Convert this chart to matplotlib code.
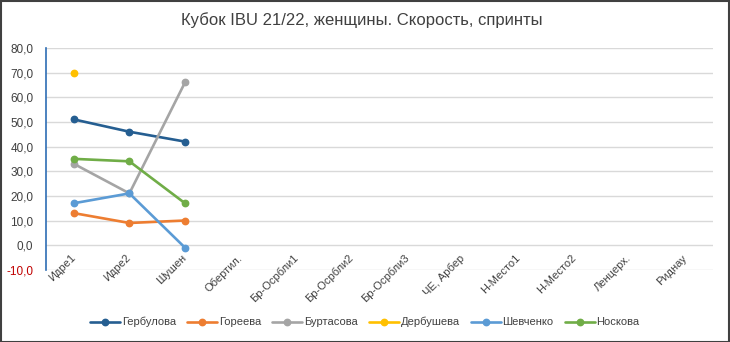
import numpy as np
import matplotlib.pyplot as plt
from matplotlib.ticker import FuncFormatter
from matplotlib import font_manager

# Data
categories = ['Идре1', 'Идре2', 'Шушен', 'Обертил.', 'Бр-Осрбли1', 'Бр-Осрбли2',
              'Бр-Осрбли3', 'ЧЕ, Арбер', 'Н-Место1', 'Н-Место2', 'Ленцерх.', 'Риднау']
names = ['Гербулова', 'Гореева', 'Буртасова', 'Дербушева', 'Шевченко', 'Носкова']
gerbulova = [51, 46, 42]
goreeva = [13, 9, 10]
burtasova = [33, 21, 66]
derbusheva = [70]
shevchenko = [17, 21, -1]
noskova = [35, 34, 17]
series = [gerbulova, goreeva, burtasova, derbusheva, shevchenko, noskova]
colors = ['#255E91', '#ED7D31', '#A5A5A5', '#FFC000', '#5B9BD5', '#70AD47']

installed = {f.name for f in font_manager.fontManager.ttflist}
fam = 'Liberation Sans Narrow' if 'Liberation Sans Narrow' in installed else 'Liberation Sans'
plt.rcParams['font.family'] = [fam, 'DejaVu Sans']

fig = plt.figure(figsize=(7.3, 3.42), dpi=100)
ax = fig.add_axes([0.063, 0.211, 0.914, 0.649])

x = np.arange(len(categories))
for vals, name, c in zip(series, names, colors):
    ax.plot(x[:len(vals)], vals, color=c, lw=1.9, marker='o', ms=4.6,
            label=name, solid_capstyle='round')

ax.set_xlim(-0.5, len(categories) - 0.5)
ax.set_ylim(-10, 80)
ax.set_yticks(np.arange(-10, 81, 10))
ax.yaxis.set_major_formatter(FuncFormatter(lambda v, p: f'{v:.1f}'.replace('.', ',')))
ax.tick_params(axis='y', labelsize=8.5, length=0, pad=9, labelcolor='#404040')

# category axis crosses at 0, labels sit just below it
ax.spines['bottom'].set_position(('data', 0))
ax.spines['bottom'].set_visible(False)
ax.set_xticks(x)
ax.set_xticklabels(categories, rotation=45, ha='right', va='center',
                   rotation_mode='anchor', color='#404040', fontsize=8)
ax.tick_params(axis='x', length=0, pad=8)

fig.canvas.draw()
for lbl in ax.get_yticklabels():
    if lbl.get_position()[1] < 0:
        lbl.set_color('#C00000')

ax.grid(axis='y', color='#D9D9D9', lw=1)
ax.set_axisbelow(True)
for s in ['top', 'right']:
    ax.spines[s].set_visible(False)
ax.spines['left'].set_color('#2E6DB4')
ax.spines['left'].set_linewidth(1.2)

fig.text(0.496, 0.94, 'Кубок IBU 21/22, женщины. Скорость, спринты',
         ha='center', va='center', fontsize=12, color='#404040')

fig.legend(loc='center', bbox_to_anchor=(0.5, 0.058), ncol=6, frameon=False,
           fontsize=8, handlelength=2.7, columnspacing=1.0, handletextpad=0.15,
           labelcolor='#404040')

border = plt.Rectangle((0.001, 0.001), 0.998, 0.997, transform=fig.transFigure,
                       fill=False, edgecolor='#404040', lw=1.5)
fig.patches.append(border)

fig.savefig('out.png', dpi=100)
